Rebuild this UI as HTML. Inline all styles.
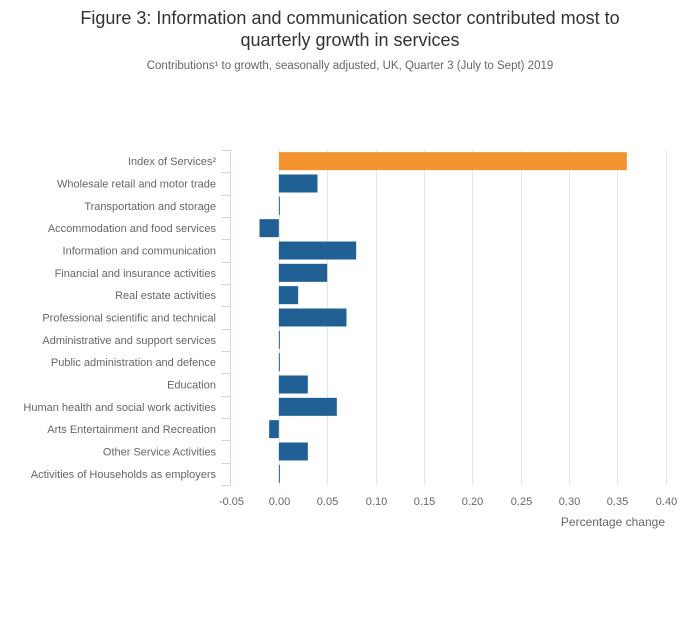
<!DOCTYPE html>
<html><head><meta charset="utf-8">
<style>
html,body{margin:0;padding:0;background:#fff;}
body{width:700px;height:635px;overflow:hidden;font-family:"Liberation Sans",sans-serif;}
</style></head>
<body>
<svg id="chart" width="700" height="635" xmlns="http://www.w3.org/2000/svg">
<text x="350" y="24" text-anchor="middle" font-size="18" fill="#333">Figure 3: Information and communication sector contributed most to</text>
<text x="350" y="46" text-anchor="middle" font-size="18" fill="#333">quarterly growth in services</text>
<text x="350" y="69" text-anchor="middle" font-size="11.5" fill="#666">Contributions¹ to growth, seasonally adjusted, UK, Quarter 3 (July to Sept) 2019</text>
<g id="grid"></g><g id="bars"></g><g id="ylabels"></g><g id="xlabels"></g>
<text x="665" y="526" text-anchor="end" font-size="12" fill="#666">Percentage change</text>
</svg>
<script>
const categories = ["Index of Services²","Wholesale retail and motor trade","Transportation and storage","Accommodation and food services","Information and communication","Financial and insurance activities","Real estate activities","Professional scientific and technical","Administrative and support services","Public administration and defence","Education","Human health and social work activities","Arts Entertainment and Recreation","Other Service Activities","Activities of Households as employers"];
const values = [0.36,0.04,0.001,-0.02,0.08,0.05,0.02,0.07,0.001,0.001,0.03,0.06,-0.01,0.03,0.001];
const xTicks = [-0.05,0,0.05,0.1,0.15,0.2,0.25,0.3,0.35,0.4];
const xTickLabels = ["-0.05","0.00","0.05","0.10","0.15","0.20","0.25","0.30","0.35","0.40"];

const NS="http://www.w3.org/2000/svg";
const plotX0=230.5,plotX1=665.5,xMinVal=-0.05,xMaxVal=0.4;
const yTop=150,yBottom=485;
const band=(yBottom-yTop)/categories.length;
function xs(v){return plotX0+(v-xMinVal)/(xMaxVal-xMinVal)*(plotX1-plotX0);}
function mk(tag,attrs,parent){const e=document.createElementNS(NS,tag);for(const k in attrs)e.setAttribute(k,attrs[k]);parent.appendChild(e);return e;}
const grid=document.getElementById('grid'),bars=document.getElementById('bars'),yl=document.getElementById('ylabels'),xl=document.getElementById('xlabels');
xTicks.forEach((t,i)=>{
  const x=Math.round(xs(t))+0.5;
  if(i>0){const g=mk('line',{x1:x,x2:x,y1:yTop,y2:yBottom,stroke:'#e6e6e6','stroke-width':1},grid);
  
  }
  const tx=mk('text',{x:x,y:yBottom+20,'text-anchor':'middle','font-size':11,fill:'#666'},xl);
  tx.textContent=xTickLabels[i];
  
  
});
const ax=mk('line',{x1:plotX0,x2:plotX0,y1:yTop,y2:yBottom,stroke:'#ccd6eb','stroke-width':1},grid);


for(let i=0;i<=categories.length;i++){
  const y=Math.round(yTop+i*band)+0.5;
  const tk=mk('line',{x1:plotX0-9,x2:plotX0,y1:y,y2:y,stroke:'#ccd6eb','stroke-width':1},grid);
  
  
}
categories.forEach((c,i)=>{
  const yc=yTop+(i+0.5)*band;
  const v=values[i];
  const a=xs(0),b=xs(v);
  const r=mk('rect',{x:Math.min(a,b),y:yc-9,width:Math.max(1,Math.abs(b-a)),height:18,fill:i===0?'#f39431':'#206095'},bars);
  
  
  const t=mk('text',{x:216,y:yc+4,'text-anchor':'end','font-size':11,fill:'#666'},yl);
  t.textContent=c;
  
  
});
</script>
</body></html>
